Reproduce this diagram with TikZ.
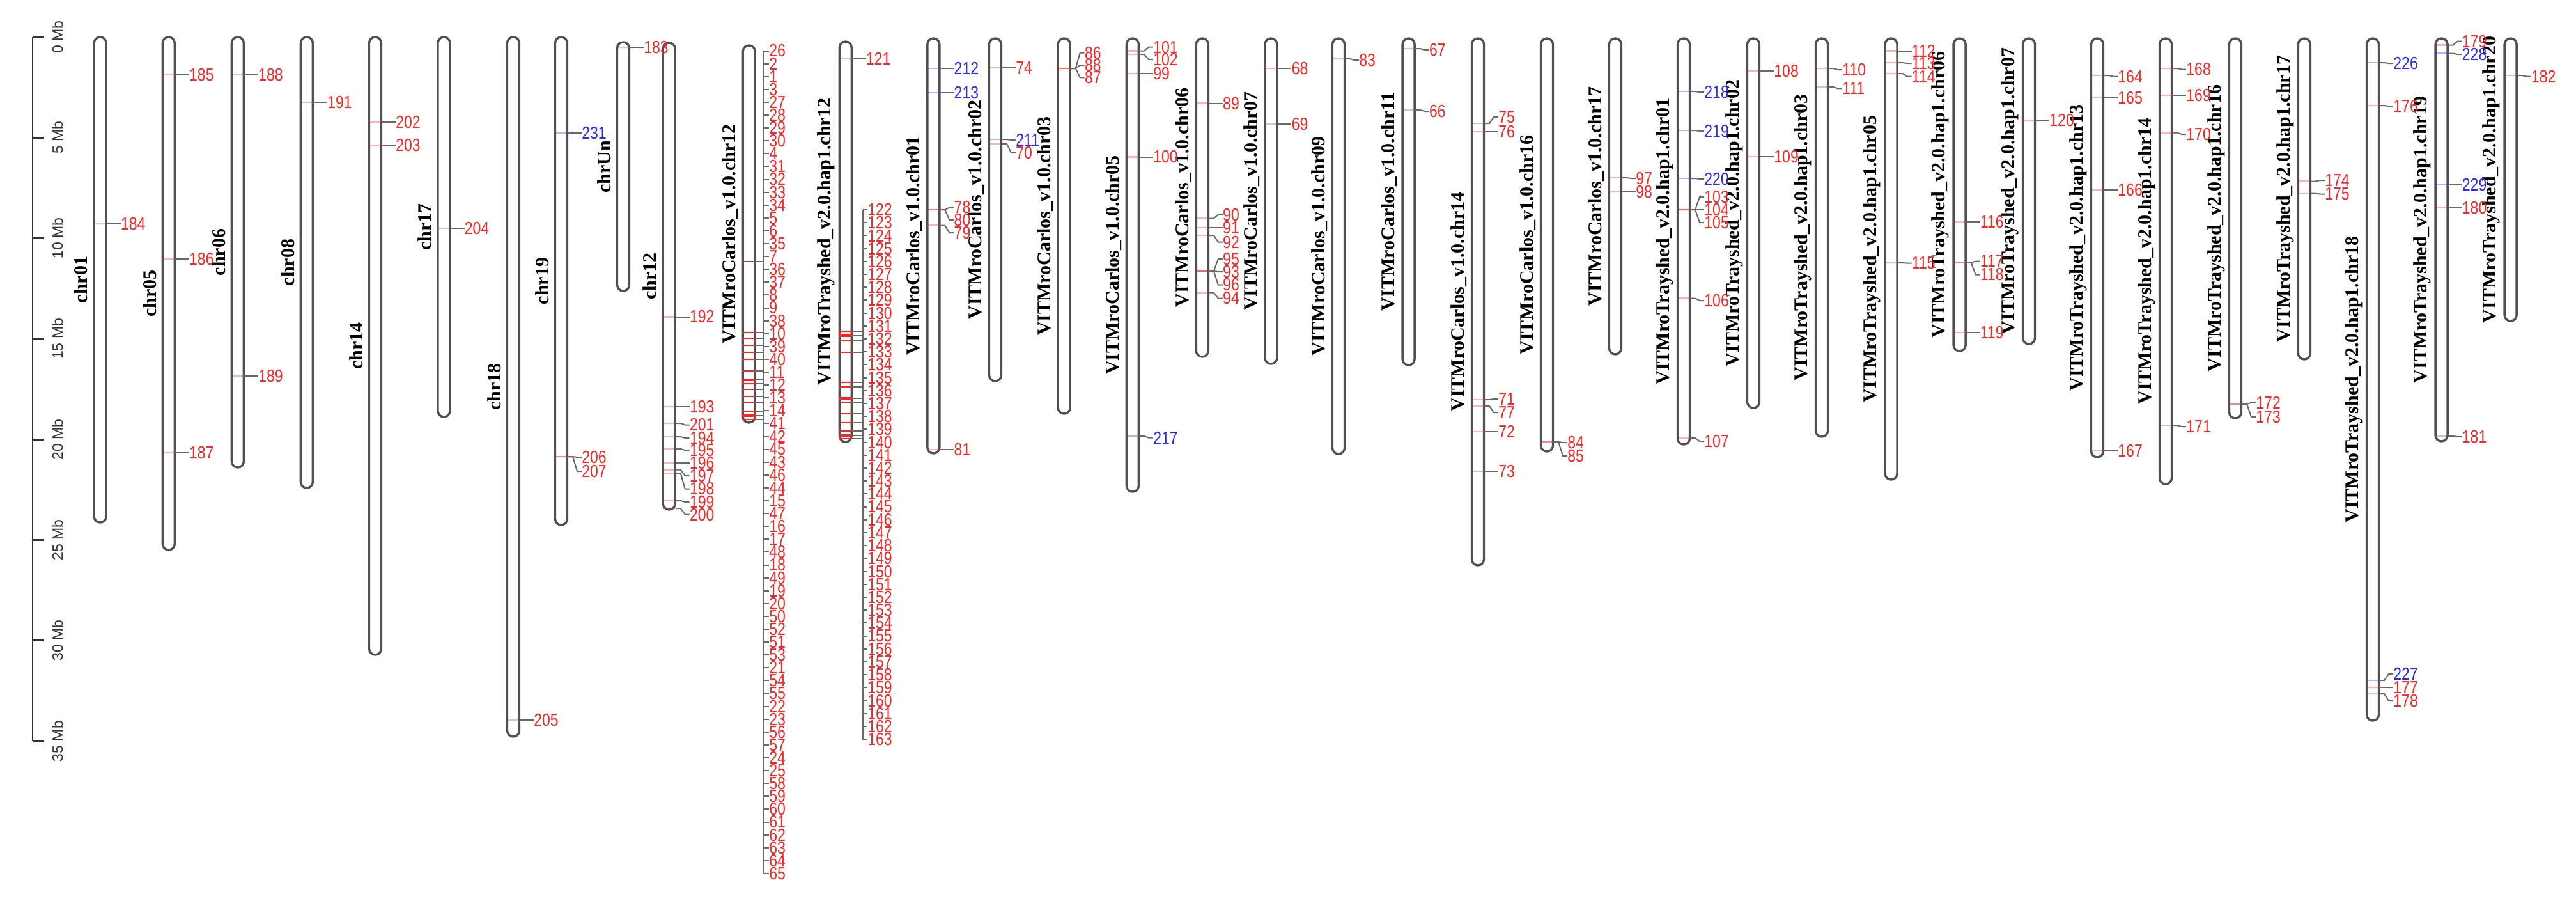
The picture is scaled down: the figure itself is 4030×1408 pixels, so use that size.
\documentclass[tikz,border=0pt]{standalone}
\usepackage{graphicx}
\usepackage{fontspec}
\setmainfont{Liberation Serif}
\newfontfamily\numfont{Liberation Sans}
\definecolor{redc}{RGB}{255,35,35}
\definecolor{bluec}{RGB}{40,40,255}
\definecolor{chrgray}{RGB}{80,80,80}
\definecolor{conngray}{RGB}{105,105,105}
\tikzset{
  chromline/.style={draw=chrgray, line width=1.7pt, rounded corners=4.7pt, fill=white},
  chrlab/.style={rotate=90, font=\bfseries\fontsize{15}{15}\selectfont, inner sep=0pt},
  numlab/.style={font=\numfont\fontsize{12.5}{12.5}\selectfont, inner sep=0pt, anchor=west},
  conn/.style={draw=conngray, line width=1pt},
  mkline/.style={line width=1.2pt, opacity=0.35},
  axisline/.style={draw=black!80, line width=1.4pt},
  axlab/.style={rotate=90, font=\numfont\fontsize{11.5}{11.5}\selectfont, text=black!80, inner sep=0pt}
}
\newcommand\numtxt[1]{\scalebox{0.92}[1.1]{#1}}
\newcommand\chrom[5]{%
  \draw[chromline] ({#1-9.5},#2) rectangle ({#1+9.5},#3);
  \node[chrlab] (#5) at ({#1-30},{(#2+#3)/2}) {#4};
}
\newcommand\mk[5]{%
  \draw[mkline,#5] ({#1-9},#2) -- ({#1+9},#2);
  \node[numlab,text=#5] (n#4) at ({#1+32},#3) {\numtxt{#4}};
  \draw[conn] ({#1+10},#2) -- ({#1+18},#2) -- ({#1+25},#3) -- (n#4.west);
}
\begin{document}
\begin{tikzpicture}[x=0.5pt,y=-0.5pt]
\useasboundingbox[fill=white] (0,0) rectangle (4030,1408);
% axis
\draw[axisline] (51,58) -- (51,1159.1);
\foreach \k in {0,...,7} {
  \pgfmathsetmacro\yy{58+157.3*\k}
  \pgfmathtruncatemacro\mb{5*\k}
  \draw[axisline] (51,\yy) -- (69,\yy);
  \node[axlab] (ax\k) at (90,\yy) {\mb\ Mb};
}
% chromosomes
\chrom{156.7}{58}{817}{chr01}{c01}
\chrom{263.8}{58}{860}{chr05}{c05}
\chrom{371.9}{58}{731}{chr06}{c06}
\chrom{479.9}{58}{763}{chr08}{c08}
\chrom{587}{58}{1024}{chr14}{c14}
\chrom{694.5}{58}{652}{chr17}{c17}
\chrom{803}{58}{1152}{chr18}{c18}
\chrom{878}{58}{821}{chr19}{c19}
\chrom{975}{66}{455}{chrUn}{cUn}
\chrom{1046.7}{67}{797}{chr12}{c12}
\chrom{1171.7}{71}{661}{VITMroCarlos\_v1.0.chr12}{vc12}
\chrom{1322.7}{65}{691}{VITMroTrayshed\_v2.0.hap1.chr12}{vt12}
\chrom{1460.3}{60}{709}{VITMroCarlos\_v1.0.chr01}{vc01}
\chrom{1557}{60}{596}{VITMroCarlos\_v1.0.chr02}{vc02}
\chrom{1664.7}{60}{647}{VITMroCarlos\_v1.0.chr03}{vc03}
\chrom{1771.9}{60}{769}{VITMroCarlos\_v1.0.chr05}{vc05}
\chrom{1880.8}{60}{558}{VITMroCarlos\_v1.0.chr06}{vc06}
\chrom{1988.4}{60}{569}{VITMroCarlos\_v1.0.chr07}{vc07}
\chrom{2094}{60}{710}{VITMroCarlos\_v1.0.chr09}{vc09}
\chrom{2203.6}{60}{571}{VITMroCarlos\_v1.0.chr11}{vc11}
\chrom{2312}{60}{884}{VITMroCarlos\_v1.0.chr14}{vc14}
\chrom{2420}{60}{706}{VITMroCarlos\_v1.0.chr16}{vc16}
\chrom{2527}{60}{554}{VITMroCarlos\_v1.0.chr17}{vc17}
\chrom{2634}{60}{695}{VITMroTrayshed\_v2.0.hap1.chr01}{vt01}
\chrom{2743}{60}{638}{VITMroTrayshed\_v2.0.hap1.chr02}{vt02}
\chrom{2850}{60}{683}{VITMroTrayshed\_v2.0.hap1.chr03}{vt03}
\chrom{2958.5}{60}{750}{VITMroTrayshed\_v2.0.hap1.chr05}{vt05}
\chrom{3065.6}{60}{549}{VITMroTrayshed\_v2.0.hap1.chr06}{vt06}
\chrom{3174}{60}{538}{VITMroTrayshed\_v2.0.hap1.chr07}{vt07}
\chrom{3281}{60}{715}{VITMroTrayshed\_v2.0.hap1.chr13}{vt13}
\chrom{3388}{60}{757}{VITMroTrayshed\_v2.0.hap1.chr14}{vt14}
\chrom{3497}{60}{654}{VITMroTrayshed\_v2.0.hap1.chr16}{vt16}
\chrom{3604.8}{60}{562}{VITMroTrayshed\_v2.0.hap1.chr17}{vt17}
\chrom{3712}{60}{1127}{VITMroTrayshed\_v2.0.hap1.chr18}{vt18}
\chrom{3819.5}{60}{690}{VITMroTrayshed\_v2.0.hap1.chr19}{vt19}
\chrom{3927.6}{60}{502}{VITMroTrayshed\_v2.0.hap1.chr20}{vt20}
% simple markers
\mk{156.7}{350}{350}{184}{redc}
\mk{263.8}{117}{117}{185}{redc}
\mk{263.8}{405}{405}{186}{redc}
\mk{263.8}{708}{708}{187}{redc}
\mk{371.9}{117}{117}{188}{redc}
\mk{371.9}{588}{588}{189}{redc}
\mk{479.9}{160}{160}{191}{redc}
\mk{587}{190.6}{190.6}{202}{redc}
\mk{587}{227}{227}{203}{redc}
\mk{694.5}{357}{357}{204}{redc}
\mk{803}{1126}{1126}{205}{redc}
\mk{878}{207.6}{207.6}{231}{bluec}
\mk{878}{714}{715}{206}{redc}
\mk{878}{714}{737}{207}{redc}
\mk{975}{74}{74}{183}{redc}
\mk{1046.7}{495.5}{495.5}{192}{redc}
\mk{1046.7}{636}{636}{193}{redc}
\mk{1046.7}{662}{664.5}{201}{redc}
\mk{1046.7}{683}{685}{194}{redc}
\mk{1046.7}{702}{704}{195}{redc}
\mk{1046.7}{724}{724}{196}{redc}
\mk{1046.7}{734.5}{744}{197}{redc}
\mk{1046.7}{740}{764.5}{198}{redc}
\mk{1046.7}{783}{785}{199}{redc}
\mk{1046.7}{795}{804.6}{200}{redc}
\mk{1322.7}{91.5}{91.5}{121}{redc}
\mk{1460.3}{107}{107}{212}{bluec}
\mk{1460.3}{145}{145}{213}{bluec}
\mk{1460.3}{328}{324.5}{78}{redc}
\mk{1460.3}{328}{344}{80}{redc}
\mk{1460.3}{352.6}{364}{79}{redc}
\mk{1460.3}{703}{703}{81}{redc}
\mk{1557}{106}{106}{74}{redc}
\mk{1557}{218}{219}{211}{bluec}
\mk{1557}{225}{239}{70}{redc}
\mk{1664.7}{107}{82.6}{86}{redc}
\mk{1664.7}{107}{102}{88}{redc}
\mk{1664.7}{107}{121.4}{87}{redc}
\mk{1771.9}{79.5}{73.7}{101}{redc}
\mk{1771.9}{85}{93}{102}{redc}
\mk{1771.9}{115}{115}{99}{redc}
\mk{1771.9}{245.5}{245.5}{100}{redc}
\mk{1771.9}{682}{684.5}{217}{bluec}
\mk{1880.8}{161.6}{161.6}{89}{redc}
\mk{1880.8}{341.5}{335.7}{90}{redc}
\mk{1880.8}{356}{356}{91}{redc}
\mk{1880.8}{368}{378.6}{92}{redc}
\mk{1880.8}{424}{405}{95}{redc}
\mk{1880.8}{424}{425}{93}{redc}
\mk{1880.8}{424}{445.5}{96}{redc}
\mk{1880.8}{457.6}{466.5}{94}{redc}
\mk{1988.4}{107}{107}{68}{redc}
\mk{1988.4}{194}{194}{69}{redc}
\mk{2094}{92}{94}{83}{redc}
\mk{2203.6}{76}{78}{67}{redc}
\mk{2203.6}{172}{174}{66}{redc}
\mk{2312}{193}{183}{75}{redc}
\mk{2312}{206}{206}{76}{redc}
\mk{2312}{625}{624}{71}{redc}
\mk{2312}{635}{645}{77}{redc}
\mk{2312}{675}{675}{72}{redc}
\mk{2312}{737}{737}{73}{redc}
\mk{2420}{691}{692}{84}{redc}
\mk{2420}{691}{713}{85}{redc}
\mk{2527}{278}{279}{97}{redc}
\mk{2527}{300}{300}{98}{redc}
\mk{2634}{143}{144}{218}{bluec}
\mk{2634}{204}{205}{219}{bluec}
\mk{2634}{279}{280}{220}{bluec}
\mk{2634}{328}{308}{103}{redc}
\mk{2634}{328}{328}{104}{redc}
\mk{2634}{328}{348}{105}{redc}
\mk{2634}{466.5}{470}{106}{redc}
\mk{2634}{685}{690}{107}{redc}
\mk{2743}{111}{111}{108}{redc}
\mk{2743}{245}{245}{109}{redc}
\mk{2850}{107}{109}{110}{redc}
\mk{2850}{136}{138.4}{111}{redc}
\mk{2958.5}{79.5}{79.5}{112}{redc}
\mk{2958.5}{98}{99}{113}{redc}
\mk{2958.5}{115}{119.6}{114}{redc}
\mk{2958.5}{411}{411.6}{115}{redc}
\mk{3065.6}{347}{347}{116}{redc}
\mk{3065.6}{410.7}{408.5}{117}{redc}
\mk{3065.6}{410.7}{429.5}{118}{redc}
\mk{3065.6}{520}{520}{119}{redc}
\mk{3174}{188.4}{188.4}{120}{redc}
\mk{3281}{118}{119.6}{164}{redc}
\mk{3281}{152}{152.7}{165}{redc}
\mk{3281}{297}{297}{166}{redc}
\mk{3281}{705}{705}{167}{redc}
\mk{3388}{107}{108.5}{168}{redc}
\mk{3388}{148.7}{148.7}{169}{redc}
\mk{3388}{207.6}{210}{170}{redc}
\mk{3388}{665}{667}{171}{redc}
\mk{3497}{632}{629.5}{172}{redc}
\mk{3497}{632}{652}{173}{redc}
\mk{3604.8}{283.5}{282}{174}{redc}
\mk{3604.8}{302.7}{303.6}{175}{redc}
\mk{3712}{98}{99}{226}{bluec}
\mk{3712}{165}{166}{176}{redc}
\mk{3712}{1064}{1054}{227}{bluec}
\mk{3712}{1075}{1075}{177}{redc}
\mk{3712}{1085}{1096}{178}{redc}
\mk{3819.5}{70.5}{64.7}{179}{redc}
\mk{3819.5}{83.5}{85}{228}{bluec}
\mk{3819.5}{289}{289}{229}{bluec}
\mk{3819.5}{325}{325}{180}{redc}
\mk{3819.5}{682}{683}{181}{redc}
\mk{3927.6}{118}{119.6}{182}{redc}
% dense cluster: VITMroCarlos chr12
\foreach \m in {408.5,520,529,540,551,562,580,600,609,620,629,643,656} {
  \draw[redc, line width=0.8pt] (1161,\m) -- (1182,\m);
  \draw[conn] (1182,\m) -- (1195,\m);
}
\foreach \m in {594,650} {
  \draw[redc, line width=2.2pt] (1161,\m) -- (1182,\m);
  \draw[conn] (1182,\m) -- (1195,\m);
}
\draw[conn] (1195,79.5) -- (1195,1366);
\foreach \t [count=\i from 0] in {26,2,1,3,27,28,29,30,4,31,32,33,34,5,6,35,7,36,37,8,9,38,10,39,40,11,12,13,14,41,42,45,43,46,44,15,47,16,17,48,18,49,19,20,50,52,51,53,21,54,55,22,23,56,57,24,25,58,59,60,61,62,63,64,65} {
  \pgfmathsetmacro\yy{79.5+20.1*\i}
  \node[numlab,text=redc] (n\t) at (1203,\yy) {\numtxt{\t}};
  \draw[conn] (1195,\yy) -- (n\t.west);
}
% dense cluster: VITMroTrayshed hap1 chr12
\foreach \m in {518,533,551,598,605,629,647,661,674,686} {
  \draw[redc, line width=0.8pt] (1312,\m) -- (1333,\m);
  \draw[conn] (1333,\m) -- (1350,\m);
}
\foreach \m in {524.5,623,681} {
  \draw[redc, line width=2.2pt] (1312,\m) -- (1333,\m);
  \draw[conn] (1333,\m) -- (1350,\m);
}
\draw[conn] (1350,328) -- (1350,1157);
\foreach \k in {122,...,163} {
  \pgfmathsetmacro\yy{328+20.2*(\k-122)}
  \node[numlab,text=redc] (n\k) at (1357,\yy) {\numtxt{\k}};
  \draw[conn] (1350,\yy) -- (n\k.west);
}
\end{tikzpicture}
\end{document}
